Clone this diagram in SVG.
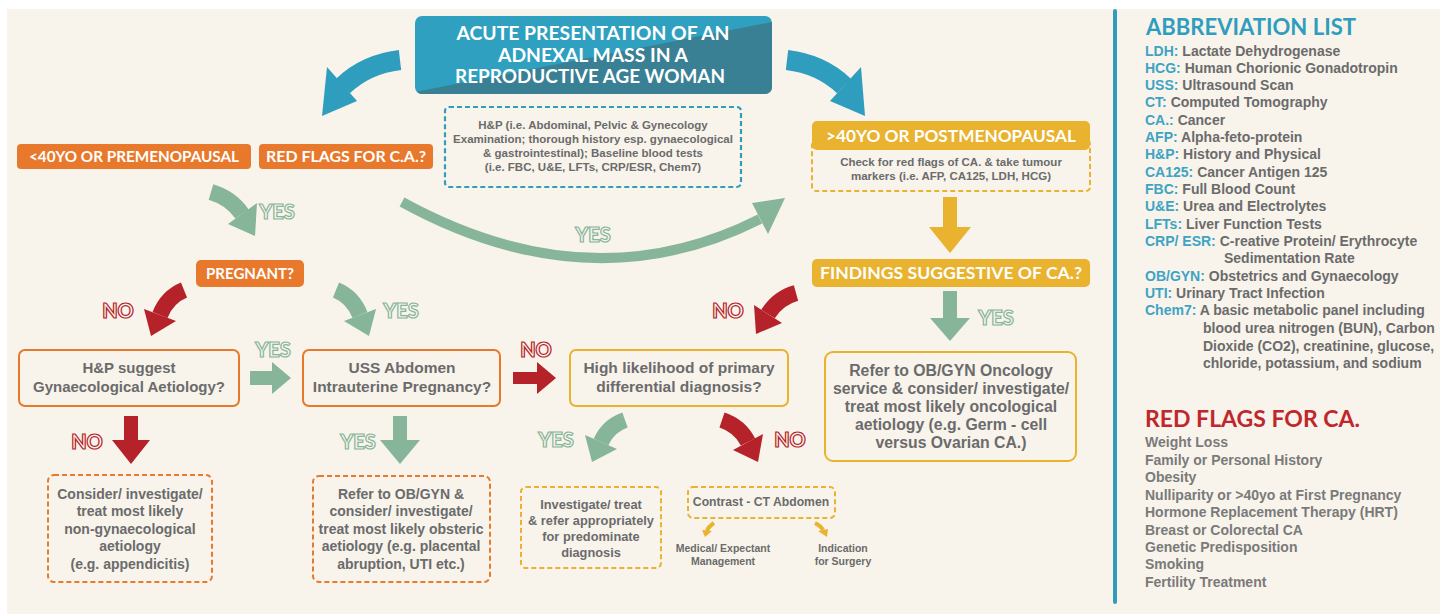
<svg xmlns="http://www.w3.org/2000/svg" width="1440" height="614" viewBox="0 0 1440 614">
<defs>
<style>
.hd{font-family:Lato,"Liberation Sans",sans-serif;font-weight:700;fill:#fff;text-anchor:middle}
.bt{font-family:"Liberation Sans",Arial,sans-serif;font-weight:700;fill:#6b6b6b;text-anchor:middle}
.yes{font-family:Lato,"Liberation Sans",sans-serif;font-weight:900;font-size:20px;fill:#F8F4EB;stroke:#86B59A;stroke-width:1.2;text-anchor:middle}
.no{font-family:Lato,"Liberation Sans",sans-serif;font-weight:900;font-size:20px;fill:#F8F4EB;stroke:#B5222A;stroke-width:1.2;text-anchor:middle}
.ob{fill:#E8792C}
.yb{fill:#E9B22F}
.obox{fill:none;stroke:#E8792C;stroke-width:2}
.ybox{fill:none;stroke:#E9B22F;stroke-width:2}
.odash{fill:none;stroke:#E8792C;stroke-width:2;stroke-dasharray:5 3}
.ydash{fill:none;stroke:#E9B22F;stroke-width:2;stroke-dasharray:5 3}
.g{fill:#86B59A}.gs{fill:none;stroke:#86B59A}
.r{fill:#B5222A}.rs{fill:none;stroke:#B5222A}
.b{fill:#2E9DBE}.bs{fill:none;stroke:#2E9DBE}
.ab{font-family:"Liberation Sans",Arial,sans-serif;font-weight:700;font-size:14px;fill:#6b6b6b}
.ak{fill:#3FA3C4}
.rf{font-family:"Liberation Sans",Arial,sans-serif;font-weight:700;font-size:14px;fill:#7a7a7a}
</style>
<clipPath id="tclip"><rect x="415" y="16" width="357" height="78" rx="7"/></clipPath>
</defs>
<rect x="0" y="0" width="1440" height="614" fill="#ffffff"/>
<rect x="7" y="9" width="1433" height="605" fill="#F8F4EB"/>

<g id="title">
<rect x="415" y="16" width="357" height="78" rx="7" fill="#2FA0BF"/>
<polygon points="415,92 772,22 772,94 415,94" fill="#3A8094" clip-path="url(#tclip)"/>
<text class="hd" x="593" y="40" font-size="18" textLength="273" lengthAdjust="spacingAndGlyphs">ACUTE PRESENTATION  OF AN</text>
<text class="hd" x="593" y="62" font-size="18" textLength="190" lengthAdjust="spacingAndGlyphs">ADNEXAL MASS IN A</text>
<text class="hd" x="590" y="83" font-size="18" textLength="270" lengthAdjust="spacingAndGlyphs">REPRODUCTIVE AGE WOMAN</text>
</g>

<g id="hp-note">
<rect x="445" y="107" width="296" height="80" rx="4" fill="none" stroke="#2E9DBE" stroke-width="2.2" stroke-dasharray="5 3"/>
<text class="bt" x="593" y="129" font-size="11.5">H&amp;P (i.e. Abdominal, Pelvic &amp; Gynecology</text>
<text class="bt" x="593" y="143" font-size="11.5">Examination; thorough history esp. gynaecological</text>
<text class="bt" x="593" y="157" font-size="11.5">&amp; gastrointestinal); Baseline blood tests</text>
<text class="bt" x="593" y="171" font-size="11.5">(i.e. FBC, U&amp;E, LFTs, CRP/ESR, Chem7)</text>
</g>

<g id="under40">
<rect class="ob" x="17" y="144" width="234" height="25" rx="4"/>
<text class="hd" x="134" y="162" font-size="16" textLength="210" lengthAdjust="spacingAndGlyphs">&lt;40YO OR PREMENOPAUSAL</text>
</g>
<g id="redflags-q">
<rect class="ob" x="259" y="144" width="174" height="25" rx="4"/>
<text class="hd" x="346" y="162" font-size="16" textLength="160" lengthAdjust="spacingAndGlyphs">RED FLAGS FOR C.A.?</text>
</g>

<g id="over40">
<rect class="ydash" x="812" y="140" width="278" height="51" rx="4"/>
<rect class="yb" x="812" y="121" width="278" height="29" rx="5"/>
<text class="hd" x="951" y="142" font-size="17" textLength="250" lengthAdjust="spacingAndGlyphs">&gt;40YO OR POSTMENOPAUSAL</text>
<text class="bt" x="951" y="166" font-size="11.5">Check for red flags of CA. &amp; take tumour</text>
<text class="bt" x="951" y="180" font-size="11.5">markers (i.e. AFP, CA125, LDH, HCG)</text>
</g>

<g id="findings">
<rect class="yb" x="812" y="259" width="278" height="28" rx="5"/>
<text class="hd" x="951" y="279" font-size="17" textLength="262" lengthAdjust="spacingAndGlyphs">FINDINGS SUGGESTIVE OF CA.?</text>
</g>

<g id="pregnant">
<rect class="ob" x="196" y="260" width="108" height="27" rx="5"/>
<text class="hd" x="250" y="279" font-size="16" textLength="88" lengthAdjust="spacingAndGlyphs">PREGNANT?</text>
</g>

<g id="hp-suggest">
<rect class="obox" x="19" y="350" width="220" height="56" rx="6"/>
<text class="bt" x="129" y="373" font-size="15">H&amp;P suggest</text>
<text class="bt" x="129" y="392" font-size="15">Gynaecological Aetiology?</text>
</g>

<g id="uss">
<rect class="obox" x="303" y="350" width="197" height="56" rx="6"/>
<text class="bt" x="402" y="373" font-size="15.5">USS Abdomen</text>
<text class="bt" x="402" y="392" font-size="15.5">Intrauterine Pregnancy?</text>
</g>

<g id="high-likelihood">
<rect class="ybox" x="570" y="350" width="218" height="56" rx="6"/>
<text class="bt" x="679" y="373" font-size="15.5">High likelihood of primary</text>
<text class="bt" x="679" y="392" font-size="15.5">differential diagnosis?</text>
</g>

<g id="oncology">
<rect class="ybox" x="825" y="352" width="251" height="109" rx="8"/>
<text class="bt" x="951" y="376" font-size="15.8">Refer to OB/GYN Oncology</text>
<text class="bt" x="951" y="394" font-size="15.8">service &amp; consider/ investigate/</text>
<text class="bt" x="951" y="412" font-size="15.8">treat most likely oncological</text>
<text class="bt" x="951" y="430" font-size="15.8">aetiology (e.g. Germ - cell</text>
<text class="bt" x="951" y="448" font-size="15.8">versus Ovarian CA.)</text>
</g>

<g id="non-gyn">
<rect class="odash" x="48" y="475" width="164" height="107" rx="6"/>
<text class="bt" x="130" y="499" font-size="14">Consider/ investigate/</text>
<text class="bt" x="130" y="516" font-size="14">treat most likely</text>
<text class="bt" x="130" y="534" font-size="14">non-gynaecological</text>
<text class="bt" x="130" y="551" font-size="14">aetiology</text>
<text class="bt" x="130" y="569" font-size="14">(e.g. appendicitis)</text>
</g>

<g id="obstetric">
<rect class="odash" x="313" y="476" width="177" height="106" rx="6"/>
<text class="bt" x="401" y="499" font-size="14">Refer to OB/GYN &amp;</text>
<text class="bt" x="401" y="516" font-size="14">consider/ investigate/</text>
<text class="bt" x="401" y="534" font-size="14">treat most likely obsteric</text>
<text class="bt" x="401" y="551" font-size="14">aetiology (e.g. placental</text>
<text class="bt" x="401" y="569" font-size="14">abruption, UTI etc.)</text>
</g>

<g id="investigate">
<rect class="ydash" x="521" y="487" width="140" height="81" rx="5"/>
<text class="bt" x="591" y="509" font-size="12.8">Investigate/ treat</text>
<text class="bt" x="591" y="525" font-size="12.8">&amp; refer appropriately</text>
<text class="bt" x="591" y="541" font-size="12.8">for predominate</text>
<text class="bt" x="591" y="557" font-size="12.8">diagnosis</text>
</g>

<g id="ct">
<rect class="ydash" x="688" y="487" width="147" height="31" rx="5"/>
<text class="bt" x="761" y="506" font-size="12.2">Contrast - CT Abdomen</text>
</g>

<g id="medical">
<text class="bt" x="723" y="552" font-size="10.5">Medical/ Expectant</text>
<text class="bt" x="723" y="565" font-size="10.5">Management</text>
</g>
<g id="surgery">
<text class="bt" x="843" y="552" font-size="10.5">Indication</text>
<text class="bt" x="843" y="565" font-size="10.5">for Surgery</text>
</g>

<g id="connectors">
<path class="bs" d="M 400 60 Q 366 64 343 86" stroke-width="20"/>
<polygon class="b" points="327,67 357,101 322,116"/>
<path class="bs" d="M 787 60 Q 821 64 844 86" stroke-width="20"/>
<polygon class="b" points="830,101 861,67 865,116"/>

<path class="gs" d="M 211 192 Q 231 198 242 214" stroke-width="16"/>
<polygon class="g" points="257,203 228,224 255,236"/>

<path class="rs" d="M 184 290 Q 167 297 160 315" stroke-width="16"/>
<polygon class="r" points="176,321 144,309 151,336"/>

<path class="gs" d="M 336 290 Q 353 297 360 315" stroke-width="16"/>
<polygon class="g" points="344,321 376,309 369,336"/>

<path class="gs" d="M 402 202 Q 590 305 760 219" stroke-width="10"/>
<polygon class="g" points="752,203 785,198 768,234"/>

<path class="rs" d="M 796 293 Q 778 298 768 314" stroke-width="16"/>
<polygon class="r" points="782,323 754,305 756,334"/>

<polygon class="yb" points="943,197 957,197 957,227 971,227 950,253 929,227 943,227"/>
<polygon class="g" points="943,291 957,291 957,318 970,318 950,341 930,318 943,318"/>
<polygon class="r" points="124,416 138,416 138,440 150,440 131,464 112,440 124,440"/>
<polygon class="g" points="393,416 407,416 407,440 420,440 400,464 380,440 393,440"/>
<polygon class="g" points="250,371 272,371 272,362 291,378 272,394 272,385 250,385"/>
<polygon class="r" points="513,372 537,372 537,362 556,378 537,394 537,384 513,384"/>

<path class="gs" d="M 625 420 Q 608 426 601 442" stroke-width="16"/>
<polygon class="g" points="617,449 585,435 592,462"/>
<path class="rs" d="M 722 420 Q 740 426 748 442" stroke-width="16"/>
<polygon class="r" points="763,434 733,450 758,462"/>

<path d="M 714 523 Q 708 527 707 531" fill="none" stroke="#E9B22F" stroke-width="4"/>
<polygon class="yb" points="702,530 712,531 705,537"/>
<path d="M 815 523 Q 821 526 823 530" fill="none" stroke="#E9B22F" stroke-width="4"/>
<polygon class="yb" points="818,531 828,529 827,537"/>

<text class="yes" x="277" y="219">YES</text>
<text class="no" x="118" y="318">NO</text>
<text class="yes" x="401" y="318">YES</text>
<text class="yes" x="593" y="242">YES</text>
<text class="no" x="728" y="318">NO</text>
<text class="yes" x="996" y="325">YES</text>
<text class="yes" x="273" y="357">YES</text>
<text class="no" x="536" y="357">NO</text>
<text class="no" x="87" y="449">NO</text>
<text class="yes" x="358" y="449">YES</text>
<text class="yes" x="556" y="447">YES</text>
<text class="no" x="790" y="447">NO</text>
</g>

<g id="sidebar">
<line x1="1115" y1="11" x2="1115" y2="602" stroke="#2E9DBE" stroke-width="4" stroke-linecap="round"/>
</g>

<g id="abbreviations">
<text x="1146" y="35" font-family="Lato,'Liberation Sans',sans-serif" font-weight="700" font-size="23" fill="#2E9DBE" textLength="210" lengthAdjust="spacingAndGlyphs">ABBREVIATION LIST</text>
<text class="ab" x="1145" y="56"><tspan class="ak">LDH:</tspan> Lactate Dehydrogenase</text>
<text class="ab" x="1145" y="73"><tspan class="ak">HCG:</tspan> Human Chorionic Gonadotropin</text>
<text class="ab" x="1145" y="90"><tspan class="ak">USS:</tspan> Ultrasound Scan</text>
<text class="ab" x="1145" y="107"><tspan class="ak">CT:</tspan> Computed Tomography</text>
<text class="ab" x="1145" y="125"><tspan class="ak">CA.:</tspan> Cancer</text>
<text class="ab" x="1145" y="142"><tspan class="ak">AFP:</tspan> Alpha-feto-protein</text>
<text class="ab" x="1145" y="159"><tspan class="ak">H&amp;P:</tspan>  History and Physical</text>
<text class="ab" x="1145" y="177"><tspan class="ak">CA125:</tspan> Cancer Antigen 125</text>
<text class="ab" x="1145" y="194"><tspan class="ak">FBC:</tspan> Full Blood Count</text>
<text class="ab" x="1145" y="211"><tspan class="ak">U&amp;E:</tspan> Urea and Electrolytes</text>
<text class="ab" x="1145" y="229"><tspan class="ak">LFTs:</tspan> Liver Function Tests</text>
<text class="ab" x="1145" y="246"><tspan class="ak">CRP/ ESR:</tspan> C-reative Protein/ Erythrocyte</text>
<text class="ab" x="1224" y="263">Sedimentation Rate</text>
<text class="ab" x="1145" y="281"><tspan class="ak">OB/GYN:</tspan> Obstetrics and Gynaecology</text>
<text class="ab" x="1145" y="298"><tspan class="ak">UTI:</tspan> Urinary Tract Infection</text>
<text class="ab" x="1145" y="315"><tspan class="ak">Chem7:</tspan> A basic metabolic panel including</text>
<text class="ab" x="1203" y="333">blood urea nitrogen (BUN), Carbon</text>
<text class="ab" x="1203" y="351">Dioxide (CO2), creatinine, glucose,</text>
<text class="ab" x="1203" y="368">chloride, potassium, and sodium</text>
</g>

<g id="redflags-list">
<text x="1145" y="427" font-family="Lato,'Liberation Sans',sans-serif" font-weight="700" font-size="22" fill="#C0272D" textLength="215" lengthAdjust="spacingAndGlyphs">RED FLAGS FOR CA.</text>
<text class="rf" x="1145" y="447">Weight Loss</text>
<text class="rf" x="1145" y="465">Family or Personal History</text>
<text class="rf" x="1145" y="482">Obesity</text>
<text class="rf" x="1145" y="500">Nulliparity or &gt;40yo at First Pregnancy</text>
<text class="rf" x="1145" y="517">Hormone Replacement Therapy (HRT)</text>
<text class="rf" x="1145" y="535">Breast or Colorectal CA</text>
<text class="rf" x="1145" y="552">Genetic Predisposition</text>
<text class="rf" x="1145" y="569">Smoking</text>
<text class="rf" x="1145" y="587">Fertility Treatment</text>
</g>
</svg>
